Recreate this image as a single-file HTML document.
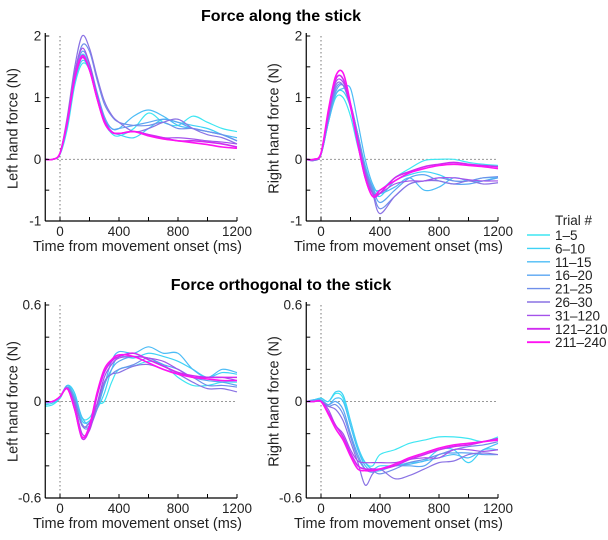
<!DOCTYPE html>
<html><head><meta charset="utf-8"><style>
body{margin:0;background:#fff;font-family:"Liberation Sans",Arial,sans-serif}
svg text{font-family:"Liberation Sans",Arial,sans-serif}
</style></head><body>
<svg id="chart" width="608" height="535" viewBox="0 0 608 535" xmlns="http://www.w3.org/2000/svg">
<text x="281" y="21" font-size="16" font-weight="bold" text-anchor="middle">Force along the stick</text>
<text x="281" y="290" font-size="16" font-weight="bold" text-anchor="middle">Force orthogonal to the stick</text>
<g id="legend"></g>
</svg>
<script>
const times=[-100,-50,0,50,100,150,200,250,300,350,400,500,600,700,800,900,1000,1100,1200];
const trialLabels=["1–5","6–10","11–15","16–20","21–25","26–30","31–120","121–210","211–240"];
const colors=["#3ee6f2","#3fd2f6","#4cbcf6","#5aa6f2","#6f8fea","#8a72e4","#a452ea","#d02cf0","#ff12f2"];
const leftAlong=[
[0,0,0.08,0.5,1.2,1.55,1.45,1.0,0.6,0.42,0.38,0.5,0.75,0.6,0.55,0.7,0.6,0.5,0.45],
[0,0,0.08,0.55,1.25,1.6,1.45,1.0,0.62,0.45,0.4,0.35,0.5,0.65,0.6,0.55,0.5,0.4,0.3],
[0,0,0.09,0.6,1.3,1.7,1.5,1.05,0.65,0.5,0.5,0.7,0.8,0.7,0.55,0.5,0.45,0.4,0.35],
[0,0,0.1,0.6,1.35,1.75,1.55,1.1,0.7,0.5,0.5,0.55,0.6,0.65,0.6,0.5,0.45,0.4,0.3],
[0,0,0.1,0.65,1.4,1.85,1.75,1.3,0.9,0.7,0.6,0.55,0.55,0.6,0.5,0.5,0.45,0.4,0.3],
[0,0,0.1,0.7,1.5,2.0,1.8,1.35,0.95,0.72,0.6,0.45,0.5,0.6,0.65,0.5,0.4,0.35,0.25],
[0,0,0.1,0.65,1.4,1.8,1.55,1.05,0.65,0.45,0.42,0.45,0.4,0.35,0.35,0.33,0.3,0.28,0.25],
[0,0,0.1,0.6,1.3,1.65,1.45,1.0,0.62,0.45,0.42,0.45,0.4,0.35,0.3,0.3,0.28,0.25,0.2],
[0,0,0.1,0.62,1.32,1.68,1.45,1.0,0.6,0.44,0.42,0.45,0.38,0.33,0.3,0.27,0.24,0.2,0.18]];
const rightAlong=[
[0,0,0.08,0.6,1.0,1.0,0.7,0.2,-0.2,-0.45,-0.5,-0.3,-0.15,-0.02,0,0,-0.05,-0.08,-0.1],
[0,0,0.08,0.6,1.05,1.1,0.85,0.4,-0.1,-0.45,-0.6,-0.35,-0.25,-0.2,-0.25,-0.35,-0.35,-0.3,-0.3],
[0,0,0.08,0.6,1.05,1.15,1.15,0.6,0.0,-0.4,-0.55,-0.45,-0.3,-0.5,-0.45,-0.3,-0.35,-0.35,-0.3],
[0,0,0.08,0.65,1.1,1.2,0.9,0.4,-0.15,-0.45,-0.7,-0.5,-0.3,-0.25,-0.35,-0.4,-0.4,-0.35,-0.3],
[0,-0.02,0.08,0.65,1.15,1.2,0.9,0.4,-0.15,-0.5,-0.8,-0.6,-0.4,-0.35,-0.3,-0.35,-0.35,-0.3,-0.28],
[0,-0.02,0.08,0.7,1.2,1.2,0.85,0.35,-0.2,-0.55,-0.88,-0.6,-0.4,-0.35,-0.35,-0.4,-0.35,-0.4,-0.38],
[0,0,0.1,0.75,1.25,1.25,0.9,0.3,-0.25,-0.55,-0.55,-0.4,-0.35,-0.35,-0.3,-0.3,-0.33,-0.35,-0.35],
[0,0,0.1,0.75,1.3,1.3,0.85,0.25,-0.3,-0.6,-0.55,-0.3,-0.2,-0.12,-0.08,-0.05,-0.08,-0.1,-0.12],
[0,0,0.1,0.8,1.35,1.4,0.9,0.25,-0.3,-0.6,-0.5,-0.35,-0.22,-0.15,-0.1,-0.08,-0.1,-0.12,-0.15]];
const leftOrth=[
[-0.03,-0.02,0.02,0.1,0.05,-0.1,-0.1,-0.02,0.0,0.12,0.2,0.22,0.25,0.23,0.15,0.1,0.1,0.12,0.12],
[-0.02,-0.01,0.02,0.1,0.05,-0.12,-0.12,-0.05,0.05,0.2,0.28,0.27,0.3,0.28,0.25,0.2,0.15,0.18,0.17],
[-0.01,0,0.03,0.1,0.03,-0.1,-0.14,-0.05,0.1,0.25,0.31,0.3,0.34,0.3,0.3,0.2,0.15,0.2,0.18],
[-0.01,0,0.03,0.09,0.02,-0.14,-0.15,-0.05,0.1,0.2,0.25,0.28,0.27,0.23,0.2,0.15,0.13,0.12,0.1],
[0,0,0.03,0.09,0,-0.15,-0.16,-0.05,0.12,0.17,0.2,0.23,0.27,0.22,0.18,0.15,0.1,0.1,0.09],
[0,0,0.03,0.08,0,-0.15,-0.13,-0.02,0.12,0.17,0.18,0.22,0.23,0.2,0.17,0.12,0.08,0.08,0.06],
[0,0,0.03,0.08,-0.02,-0.2,-0.18,-0.02,0.15,0.23,0.27,0.28,0.27,0.25,0.2,0.15,0.15,0.15,0.13],
[0,0,0.03,0.08,-0.05,-0.23,-0.17,0.03,0.18,0.25,0.28,0.3,0.26,0.22,0.18,0.16,0.15,0.15,0.15],
[0,0,0.03,0.08,-0.05,-0.22,-0.15,0.05,0.2,0.26,0.29,0.28,0.24,0.2,0.17,0.15,0.14,0.13,0.13]];
const rightOrth=[
[0,0.01,0.02,0,0.05,0.02,-0.15,-0.3,-0.38,-0.4,-0.33,-0.3,-0.26,-0.24,-0.22,-0.22,-0.23,-0.25,-0.22],
[0,0.01,0.02,0,0.06,0.04,-0.12,-0.28,-0.38,-0.42,-0.4,-0.4,-0.38,-0.37,-0.3,-0.3,-0.38,-0.3,-0.3],
[0,0.01,0.01,-0.02,0.02,0,-0.15,-0.3,-0.4,-0.43,-0.43,-0.4,-0.39,-0.37,-0.35,-0.33,-0.35,-0.3,-0.26],
[0,0,0.01,-0.02,0,-0.05,-0.2,-0.33,-0.42,-0.44,-0.42,-0.4,-0.4,-0.4,-0.33,-0.32,-0.32,-0.33,-0.33],
[0,0,0,-0.03,-0.02,-0.08,-0.22,-0.35,-0.42,-0.43,-0.45,-0.42,-0.38,-0.36,-0.33,-0.3,-0.28,-0.27,-0.25],
[0,0,0,-0.03,-0.05,-0.12,-0.25,-0.38,-0.52,-0.45,-0.42,-0.48,-0.46,-0.42,-0.38,-0.37,-0.33,-0.32,-0.33],
[0,0,0,-0.05,-0.15,-0.2,-0.3,-0.37,-0.38,-0.38,-0.38,-0.38,-0.36,-0.35,-0.35,-0.3,-0.3,-0.31,-0.3],
[0,0,0,-0.07,-0.15,-0.22,-0.32,-0.4,-0.42,-0.42,-0.42,-0.4,-0.36,-0.33,-0.3,-0.28,-0.27,-0.25,-0.23],
[0,0,0,-0.08,-0.17,-0.24,-0.34,-0.42,-0.43,-0.43,-0.42,-0.39,-0.35,-0.32,-0.29,-0.27,-0.26,-0.25,-0.24]];
const xTickLabels=["0","400","800","1200"];
const topYTicks=["-1","0","1","2"];
const botYTicks=["-0.6","0","0.6"];

const NS="http://www.w3.org/2000/svg";
const svg=document.getElementById("chart");
function mk(tag,attrs,parent){const e=document.createElementNS(NS,tag);for(const k in attrs)e.setAttribute(k,attrs[k]);(parent||svg).appendChild(e);return e;}

const panels=[
 {name:"left-along",data:leftAlong,x0:60,top:36,bot:221,ymin:-1,ymax:2,minor:0.5,labels:topYTicks,title:"Left hand force (N)"},
 {name:"right-along",data:rightAlong,x0:321,top:36,bot:221,ymin:-1,ymax:2,minor:0.5,labels:topYTicks,title:"Right hand force (N)"},
 {name:"left-orth",data:leftOrth,x0:60,top:305,bot:498,ymin:-0.6,ymax:0.6,minor:0.2,labels:botYTicks,title:"Left hand force (N)"},
 {name:"right-orth",data:rightOrth,x0:321,top:305,bot:498,ymin:-0.6,ymax:0.6,minor:0.2,labels:botYTicks,title:"Right hand force (N)"}];

panels.forEach(p=>{
 const xs=t=>p.x0+t*177/1200;
 const ys=v=>p.bot-(v-p.ymin)/(p.ymax-p.ymin)*(p.bot-p.top);
 const g=mk("g",{});
 
 
 const zl=mk("line",{x1:xs(-100),x2:xs(1200),y1:ys(0),y2:ys(0),stroke:"#777","stroke-width":1,"stroke-dasharray":"1.5,2.5"},g);
 
 
 const ol=mk("line",{x1:xs(0),x2:xs(0),y1:p.top,y2:p.bot,stroke:"#777","stroke-width":1,"stroke-dasharray":"1.5,2.5"},g);
 
 
 p.data.forEach((ser,i)=>{
  const pts=ser.map((v,j)=>[xs(times[j]),ys(v)]);
  let d="M"+pts[0][0]+","+pts[0][1];
  for(let j=0;j<pts.length-1;j++){
   const a=pts[Math.max(0,j-1)],b=pts[j],c=pts[j+1],e=pts[Math.min(pts.length-1,j+2)];
   d+=" C"+(b[0]+(c[0]-a[0])/6)+","+(b[1]+(c[1]-a[1])/6)+" "+(c[0]-(e[0]-b[0])/6)+","+(c[1]-(e[1]-b[1])/6)+" "+c[0]+","+c[1];
  }
  const path=mk("path",{d:d,fill:"none",stroke:colors[i],"stroke-width":i>=7?1.6:1.2},g);
  
  
 });
 const ya=mk("line",{x1:xs(-100),x2:xs(-100),y1:p.top-3,y2:p.bot,stroke:"#000","stroke-width":1.2},g);
 
 
 const xa=mk("line",{x1:xs(-100),x2:xs(1200),y1:p.bot,y2:p.bot,stroke:"#000","stroke-width":1.2},g);
 
 
 for(let t=0;t<=1200;t+=200){mk("line",{x1:xs(t),x2:xs(t),y1:p.bot,y2:p.bot-4,stroke:"#000"},g);}
 xTickLabels.forEach(l=>{
  const tx=mk("text",{x:xs(+l),y:p.bot+15,"font-size":13.5,"text-anchor":"middle",fill:"#222"},g);
  tx.textContent=l;
  
  
 });
 for(let v=p.ymin;v<=p.ymax+1e-6;v+=p.minor){mk("line",{x1:xs(-100),x2:xs(-100)+4,y1:ys(v),y2:ys(v),stroke:"#000"},g);}
 p.labels.forEach(l=>{
  const ty=mk("text",{x:xs(-100)-4,y:ys(+l)+4.5,"font-size":13.5,"text-anchor":"end",fill:"#222"},g);
  ty.textContent=l;
  
  
 });
 const xt=mk("text",{x:xs(525),y:p.bot+30,"font-size":14.5,"text-anchor":"middle",fill:"#222"},g);
 xt.textContent="Time from movement onset (ms)";
 
 
 const cy=(p.top+p.bot)/2, cx=xs(-100)-28;
 const yt=mk("text",{x:cx,y:cy,"font-size":14.5,"text-anchor":"middle",fill:"#222",transform:"rotate(-90 "+cx+" "+cy+")"},g);
 yt.textContent=p.title;
 
 
});

const lg=document.getElementById("legend");
const lt=mk("text",{x:555,y:225,"font-size":13.5,fill:"#222"},lg);
lt.textContent="Trial #";


trialLabels.forEach((l,i)=>{
 const y=235+i*13.4;
 const ln=mk("line",{x1:527,x2:550,y1:y,y2:y,stroke:colors[i],"stroke-width":i>=7?1.8:1.4},lg);
 
 
 const tx=mk("text",{x:555,y:y+5,"font-size":13.5,fill:"#222"},lg);
 tx.textContent=l;
 
 
});
</script>
</body></html>
